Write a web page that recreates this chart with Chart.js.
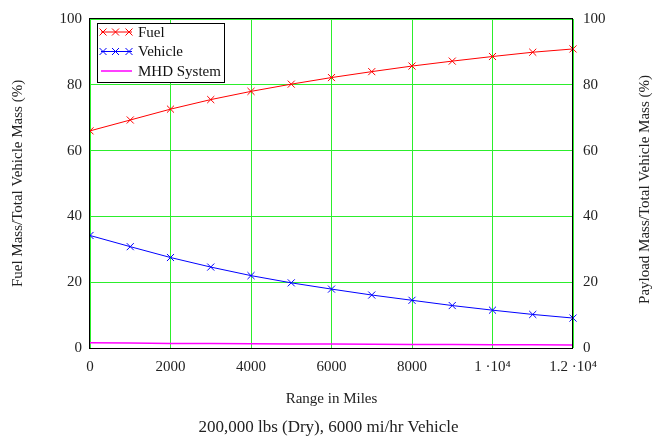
<!DOCTYPE html>
<html>
<head>
<meta charset="utf-8">
<script src="https://cdn.jsdelivr.net/npm/chart.js@4"></script>
<style>
  html, body { margin: 0; padding: 0; background: #fff; }
  #wrap { width: 657px; height: 438px; }
</style>
</head>
<body>
<div id="wrap"><canvas id="chart"></canvas></div>
<script>
// range in miles, one point every 1000 mi
const ranges = [0, 1000, 2000, 3000, 4000, 5000, 6000, 7000, 8000, 9000, 10000, 11000, 12000];
// mass fractions (%)
const fuelPct = [66, 69.3, 72.6, 75.5, 78, 80.2, 82.2, 84, 85.7, 87.2, 88.6, 89.9, 90.9];
const vehiclePct = [34.2, 30.8, 27.5, 24.6, 22, 19.8, 17.9, 16.1, 14.5, 12.9, 11.5, 10.2, 9.1];
const mhdPct = [1.6, 1.5, 1.4, 1.35, 1.3, 1.25, 1.2, 1.15, 1.1, 1.05, 1.0, 0.95, 0.9];
const xTicks = [0, 2000, 4000, 6000, 8000, 10000, 12000];
const yTicks = [0, 20, 40, 60, 80, 100];

const serif = "'Liberation Serif', 'Times New Roman', serif";
const green = "#2cee2c";

// 1 ·10⁴ style labels for the big ranges
function rangeLabel(v) {
  if (v >= 10000) return (v / 10000) + " \u00b710\u2074";
  return String(v);
}

// black frame, in-plot legend and right-hand axis title
const extras = {
  id: "extras",
  afterDatasetsDraw(chart) {
    const ctx = chart.ctx;
    const a = chart.chartArea;
    ctx.save();
    ctx.strokeStyle = "#000";
    ctx.lineWidth = 1;
    ctx.strokeRect(a.left - 0.5, a.top - 0.5, a.right - a.left, a.bottom - a.top + 1);

    // legend box
    const bx = 97.5, by = 23.5, bw = 127, bh = 59;
    ctx.fillStyle = "#fff";
    ctx.fillRect(bx, by, bw, bh);
    ctx.strokeStyle = "#000";
    ctx.strokeRect(bx, by, bw, bh);
    const rows = [32, 51.5, 71];
    chart.data.datasets.forEach((ds, i) => {
      const y = rows[i];
      ctx.strokeStyle = ds.borderColor;
      ctx.lineWidth = ds.borderWidth;
      ctx.beginPath();
      ctx.moveTo(101, y);
      ctx.lineTo(132, y);
      ctx.stroke();
      if (ds.pointRadius > 0) {
        [103, 115.5, 129].forEach(x => {
          ctx.beginPath();
          ctx.moveTo(x - 3.5, y - 3.5);
          ctx.lineTo(x + 3.5, y + 3.5);
          ctx.moveTo(x + 3.5, y - 3.5);
          ctx.lineTo(x - 3.5, y + 3.5);
          ctx.stroke();
        });
      }
      ctx.fillStyle = "#111";
      ctx.font = "15px " + serif;
      ctx.textBaseline = "middle";
      ctx.textAlign = "left";
      ctx.fillText(ds.label, 138, y + 1);
    });

    // right axis title, reading bottom to top
    ctx.translate(645, (a.top + a.bottom) / 2 + 6);
    ctx.rotate(-Math.PI / 2);
    ctx.fillStyle = "#222";
    ctx.font = "15px " + serif;
    ctx.textAlign = "center";
    ctx.textBaseline = "middle";
    ctx.fillText("Payload Mass/Total Vehicle Mass (%)", 0, 0);
    ctx.restore();
  }
};

const ctx = document.getElementById("chart").getContext("2d");
const chart = new Chart(ctx, {
  type: "line",
  data: {
    labels: ranges,
    datasets: [
      {
        label: "Fuel",
        data: ranges.map((r, i) => ({ x: r, y: fuelPct[i] })),
        borderColor: "#ff0000",
        borderWidth: 1,
        pointStyle: "crossRot",
        pointRadius: 5,
        pointBorderColor: "#ff0000",
        pointBorderWidth: 1,
        clip: { left: 0, top: 10, right: 10, bottom: 10 }
      },
      {
        label: "Vehicle",
        data: ranges.map((r, i) => ({ x: r, y: vehiclePct[i] })),
        borderColor: "#0000ff",
        borderWidth: 1,
        pointStyle: "crossRot",
        pointRadius: 5,
        pointBorderColor: "#0000ff",
        pointBorderWidth: 1,
        clip: { left: 0, top: 10, right: 10, bottom: 10 }
      },
      {
        label: "MHD System",
        data: ranges.map((r, i) => ({ x: r, y: mhdPct[i] })),
        borderColor: "#ff00ff",
        borderWidth: 1.5,
        pointRadius: 0
      }
    ]
  },
  options: {
    responsive: true,
    maintainAspectRatio: false,
    animation: false,
    layout: { padding: { top: 14, left: 0, right: 0, bottom: 0 } },
    plugins: {
      legend: { display: false },
      tooltip: { enabled: false },
      subtitle: {
        display: true,
        position: "bottom",
        text: "200,000 lbs (Dry), 6000 mi/hr Vehicle",
        color: "#222",
        font: { family: serif, size: 17 },
        padding: { top: 0, bottom: 0 }
      }
    },
    scales: {
      x: {
        type: "linear",
        min: 0,
        max: 12000,
        afterBuildTicks: s => { s.ticks = xTicks.map(v => ({ value: v })); },
        afterFit: s => { s.height = 69.6; },
        grid: { color: green, lineWidth: 1, drawTicks: false },
        border: { display: false },
        ticks: {
          padding: 10,
          color: "#222",
          font: { family: serif, size: 15 },
          maxRotation: 0,
          callback: v => rangeLabel(v)
        },
        title: {
          display: true,
          text: "Range in Miles",
          color: "#222",
          font: { family: serif, size: 15 },
          padding: { top: 0, bottom: 9.6 }
        }
      },
      y: {
        position: "left",
        min: 0,
        max: 100,
        afterBuildTicks: s => { s.ticks = yTicks.map(v => ({ value: v })); },
        afterFit: s => { s.width = 90; },
        grid: { color: green, lineWidth: 1, drawTicks: false },
        border: { display: false },
        ticks: {
          padding: 8,
          color: "#222",
          font: { family: serif, size: 15 }
        },
        title: {
          display: true,
          text: "Fuel Mass/Total Vehicle Mass (%)",
          color: "#222",
          font: { family: serif, size: 15 },
          padding: { top: 9, bottom: 0 }
        }
      },
      y2: {
        position: "right",
        min: 0,
        max: 100,
        afterBuildTicks: s => { s.ticks = yTicks.map(v => ({ value: v })); },
        afterFit: s => { s.width = 84; },
        grid: { display: false, drawTicks: false },
        border: { display: false },
        ticks: {
          padding: 10,
          color: "#222",
          font: { family: serif, size: 15 }
        }
      }
    }
  },
  plugins: [extras]
});
</script>
</body>
</html>
